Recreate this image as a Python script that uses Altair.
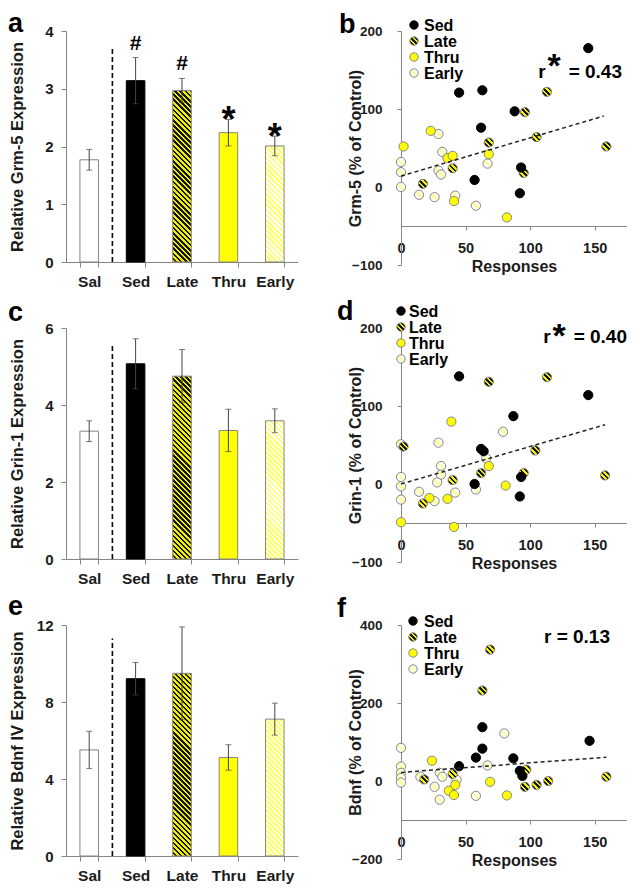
import math
import altair as alt
import pandas as pd

FONT = "Liberation Sans"
GRAY = "#858585"
TXT = "#1c1c1c"
YEL = "#FFFF00"
LYEL = "#FFFF99"
BLK = "#000000"

# ---------------- data ----------------
groups = ["Sal", "Sed", "Late", "Thru", "Early"]

grm5_mean = [1.77, 3.14, 2.97, 2.24, 2.01]
grm5_sem = [0.18, 0.40, 0.21, 0.23, 0.17]
grm5_sig = ["", "#", "#", "*", "*"]

grin1_mean = [3.32, 5.07, 4.75, 3.34, 3.59]
grin1_sem = [0.27, 0.65, 0.69, 0.55, 0.31]
grin1_sig = ["", "", "", "", ""]

bdnf_mean = [5.51, 9.21, 9.49, 5.12, 7.11]
bdnf_sem = [0.97, 0.84, 2.41, 0.66, 0.83]
bdnf_sig = ["", "", "", "", ""]

# scatter b (Grm-5)
b_sed_x = [45, 63, 88, 62, 145, 57, 93, 92]
b_sed_y = [121, 124, 97, 76, 178, 9, 25, -8]
b_late_x = [113, 96, 105, 68, 159, 40, 95, 17]
b_late_y = [122, 96, 64, 57, 52, 24, 18, 4]
b_thru_x = [2, 23, 36, 40, 68, 41, 82]
b_thru_y = [52, 72, 37, 40, 42, -18, -39]
b_early_x = [29, 32, 0, 0, 0, 29, 31, 67, 14, 26, 42, 58]
b_early_y = [68, 45, 32, 19, 0, 21, 16, 30, -10, -13, -11, -24]
b_trend_x = [0, 157]
b_trend_y = [14, 91]

# scatter d (Grin-1)
d_sed_x = [45, 87, 145, 62, 64, 57, 93, 92]
d_sed_y = [138, 87, 114, 45, 42, 0, 9, -16]
d_late_x = [68, 113, 104, 62, 95, 158, 40, 17, 2]
d_late_y = [131, 137, 43, 14, 14, 11, 5, -25, 48]
d_thru_x = [39, 68, 81, 36, 22, 41, 0]
d_thru_y = [80, 23, -2, -19, -18, -55, -49]
d_early_x = [0, 29, 79, 31, 31, 66, 0, 0, 0, 28, 14, 26, 42, 58]
d_early_y = [51, 53, 67, 23, 12, 33, 9, -3, -20, 2, -10, -22, -11, -7]
d_trend_x = [0, 158]
d_trend_y = [0, 76]

# scatter f (Bdnf)
f_sed_x = [63, 63, 58, 87, 146, 45, 92, 94]
f_sed_y = [138, 83, 60, 58, 103, 38, 26, 13]
f_late_x = [69, 63, 97, 40, 18, 159, 114, 105, 96]
f_late_y = [337, 232, 29, 18, 4, 11, 0, -10, -15]
f_thru_x = [24, 37, 41, 42, 69, 82]
f_thru_y = [52, -25, -36, -10, -2, -37]
f_early_x = [0, 0, 0, 0, 0, 15, 30, 32, 26, 30, 43, 58, 67, 80]
f_early_y = [85, 37, 21, 8, -4, 11, 21, 11, -15, -48, 3, -38, 40, 122]
f_trend_x = [0, 159]
f_trend_y = [22, 61]

legend_labels = ["Sed", "Late", "Thru", "Early"]

# ---------------- sizes ----------------
BW, BH = 232, 231   # bar panels
SW, SH = 226, 234   # scatter panels


def hatch_rect(w, h, c1, c2, period):
    """diagonal '\\' stripes for a rect of w x h pixels via a linear gradient"""
    r = h / w
    s = (1 + r) / (1 + r * r)
    L = (w + h) / math.sqrt(2)
    n = max(1, int(round(L / period)))
    stops = []
    for k in range(n):
        a, b, c = k / n, (k + 0.5) / n, (k + 1) / n
        stops += [
            {"offset": round(a, 5), "color": c1},
            {"offset": round(b, 5), "color": c1},
            {"offset": round(b, 5), "color": c2},
            {"offset": round(c, 5), "color": c2},
        ]
    return {"gradient": "linear", "x1": 0, "y1": 1, "x2": round(s, 5),
            "y2": round(1 - s * r, 5), "stops": stops}


def circle_stripes(colors):
    n = len(colors)
    stops = []
    for i, c in enumerate(colors):
        stops += [{"offset": round(i / n, 4), "color": c},
                  {"offset": round((i + 1) / n, 4), "color": c}]
    return {"gradient": "linear", "x1": 0, "y1": 1, "x2": 1, "y2": 0, "stops": stops}


LATE_DOT = circle_stripes(["#F2F200", "#111111", "#F2F200", "#111111",
                           "#F2F200", "#111111", "#F2F200"])
EARLY_DOT = circle_stripes([LYEL, "#FFFFFF", LYEL, "#FFFFFF", LYEL])


def letter_layer(letter, x, y):
    return alt.Chart(pd.DataFrame({"t": [letter]})).mark_text(
        fontSize=27, fontWeight="bold", align="left", baseline="alphabetic",
        color="black").encode(x=alt.value(x), y=alt.value(y), text="t:N")


def bar_panel(letter, ytitle, means, sems, sig, ymax, yticks, div_top, letter_y):
    df = pd.DataFrame({"g": groups, "m": means, "s": sems, "sig": sig})
    df["lo"] = df["m"] - df["s"]
    df["hi"] = df["m"] + df["s"]
    xscale = alt.Scale(domain=groups, paddingInner=0.6, paddingOuter=0.3)
    xaxis = alt.Axis(title=None, labelAngle=0, tickBand="extent", tickSize=5,
                     labelPadding=7, labelFontSize=15.5, labelFontWeight="bold")
    X = alt.X("g:N", scale=xscale, axis=xaxis, sort=groups)
    yscale = alt.Scale(domain=[0, ymax], nice=False)
    yaxis = alt.Axis(title=ytitle, values=yticks, tickSize=5, labelPadding=8,
                     labelFontSize=15, labelFontWeight="bold", titleFontSize=16.5,
                     titleFontWeight="bold", minExtent=36, maxExtent=36, titlePadding=5)

    def Y(f):
        return alt.Y(f, type="quantitative", scale=yscale, axis=yaxis)

    base = alt.Chart(df)
    step = BW / 5
    bw = 0.4 * step
    mm = dict(zip(groups, means))
    late_fill = hatch_rect(bw, mm["Late"] / ymax * BH, "#EFEF00", "#141414", 3.6)
    early_fill = hatch_rect(bw, mm["Early"] / ymax * BH, "#FFFF6A", "#FFFFFF", 3.6)

    def bar(g, **kw):
        return base.transform_filter(alt.datum.g == g).mark_bar(**kw).encode(x=X, y=Y("m"))

    layers = [
        bar("Sal", fill="white", stroke=GRAY, strokeWidth=1),
        bar("Sed", fill=BLK, stroke=BLK, strokeWidth=1),
        bar("Late", fill=late_fill, stroke=GRAY, strokeWidth=1),
        bar("Thru", fill=YEL, stroke=GRAY, strokeWidth=1),
        bar("Early", fill=early_fill, stroke=GRAY, strokeWidth=1),
        base.mark_rule(color="#454545", strokeWidth=1).encode(x=X, y=Y("lo"), y2="hi:Q"),
        base.mark_tick(color="#454545", size=6, thickness=1).encode(x=X, y=Y("hi")),
        base.mark_tick(color="#454545", size=6, thickness=1).encode(x=X, y=Y("lo")),
        base.transform_filter(alt.datum.sig == "#").mark_text(
            fontSize=21, fontWeight="bold", baseline="alphabetic", dy=-8, color="black"
        ).encode(x=X, y=Y("hi"), text="sig:N"),
        base.transform_filter(alt.datum.sig == "*").mark_text(
            fontSize=36, fontWeight="bold", baseline="alphabetic", dy=13, color="black"
        ).encode(x=X, y=Y("hi"), text="sig:N"),
        alt.Chart(pd.DataFrame({"g": ["Sal"], "z": [0.0], "t": [div_top]})).mark_rule(
            color="black", strokeWidth=1.6, strokeDash=[5, 3], xOffset=0.3 * step
        ).encode(x=alt.X("g:N", scale=xscale, axis=xaxis, sort=groups, bandPosition=1),
                 y=Y("z"), y2="t:Q"),
        letter_layer(letter, -58, letter_y),
    ]
    return alt.layer(*layers).properties(width=BW, height=BH)


def scatter_panel(letter, ytitle, sets, trend, ydom, yticks, rinfo, leg, let_xy):
    xscale = alt.Scale(domain=[0, 175], nice=False, zero=False)
    xaxis = alt.Axis(title="Responses", values=[0, 50, 100, 150], offset=-SH / 6,
                     tickSize=4, labelPadding=11, labelFontSize=14.5, labelFontWeight="bold",
                     labelFlush=False, titleFontSize=16, titleFontWeight="bold",
                     minExtent=30, maxExtent=30, titlePadding=2)
    yscale = alt.Scale(domain=ydom, nice=False, zero=False)
    yaxis = alt.Axis(title=ytitle, values=yticks, tickSize=4, labelPadding=15,
                     labelFontSize=13.5, labelFontWeight="bold", titleFontSize=16,
                     titleFontWeight="bold", minExtent=34, maxExtent=34, titlePadding=4)
    X = alt.X("x:Q", scale=xscale, axis=xaxis)
    Y = alt.Y("y:Q", scale=yscale, axis=yaxis)

    styles = {
        "Sed": dict(fill=BLK, stroke=BLK),
        "Late": dict(fill=LATE_DOT, stroke=GRAY),
        "Thru": dict(fill=YEL, stroke=GRAY),
        "Early": dict(fill=EARLY_DOT, stroke=GRAY),
    }
    layers = []
    for name in ["Early", "Thru", "Late", "Sed"]:
        xs, ys = sets[name]
        layers.append(alt.Chart(pd.DataFrame({"x": xs, "y": ys})).mark_point(
            shape="circle", filled=True, size=85, strokeWidth=1, opacity=1,
            **styles[name]).encode(x=X, y=Y))
    layers.append(alt.Chart(pd.DataFrame({"x": trend[0], "y": trend[1]})).mark_line(
        color="#222222", strokeWidth=1.5, strokeDash=[4, 3]).encode(x=X, y=Y))

    # legend
    lx, ly, tx, stp = leg
    for i, name in enumerate(legend_labels):
        one = alt.Chart(pd.DataFrame({"label": [name]}))
        layers.append(one.mark_point(shape="circle", filled=True, size=70, strokeWidth=1,
                                     opacity=1, **styles[name]).encode(
            x=alt.value(lx), y=alt.value(ly + i * stp)))
        layers.append(one.mark_text(align="left", baseline="middle", fontSize=16,
                                    fontWeight="bold", color="black").encode(
            x=alt.value(tx), y=alt.value(ly + i * stp + 1), text="label:N"))

    # r annotation
    R, base_y, star, value_txt, star_dy = rinfo
    one = alt.Chart(pd.DataFrame({"v": [value_txt], "r": ["r"], "s": ["*"]}))
    layers.append(one.mark_text(align="right", baseline="alphabetic", fontSize=19,
                                fontWeight="bold", color="black").encode(
        x=alt.value(R), y=alt.value(base_y), text="v:N"))
    if star:
        layers.append(one.mark_text(align="center", baseline="alphabetic", fontSize=19,
                                    fontWeight="bold", color="black").encode(
            x=alt.value(R - 80), y=alt.value(base_y), text="r:N"))
        layers.append(one.mark_text(align="center", baseline="alphabetic", fontSize=34,
                                    fontWeight="bold", color="black").encode(
            x=alt.value(R - 68), y=alt.value(base_y + star_dy), text="s:N"))
    layers.append(letter_layer(letter, let_xy[0], let_xy[1]))
    return alt.layer(*layers).properties(width=SW, height=SH)


a = bar_panel("a", "Relative Grm-5 Expression", grm5_mean, grm5_sem, grm5_sig,
              4, [0, 1, 2, 3, 4], 3.72, 1)
c = bar_panel("c", "Relative Grin-1 Expression", grin1_mean, grin1_sem, grin1_sig,
              6, [0, 2, 4, 6], 5.6, -7)
e = bar_panel("e", "Relative Bdnf IV Expression", bdnf_mean, bdnf_sem, bdnf_sig,
              12, [0, 4, 8, 12], 11.3, -10)

b = scatter_panel(
    "b", "Grm-5 (% of Control)",
    {"Sed": (b_sed_x, b_sed_y), "Late": (b_late_x, b_late_y),
     "Thru": (b_thru_x, b_thru_y), "Early": (b_early_x, b_early_y)},
    (b_trend_x, b_trend_y), [-100, 200], [-100, 0, 100, 200],
    (SW - 5, 47, True, "= 0.43", -1), (13, -6, 23, 16), (-62, 2))
d = scatter_panel(
    "d", "Grin-1 (% of Control)",
    {"Sed": (d_sed_x, d_sed_y), "Late": (d_late_x, d_late_y),
     "Thru": (d_thru_x, d_thru_y), "Early": (d_early_x, d_early_y)},
    (d_trend_x, d_trend_y), [-100, 200], [-100, 0, 100, 200],
    (SW, 15, True, "= 0.40", 4), (0, -17, 8, 16), (-64, -8))
f = scatter_panel(
    "f", "Bdnf (% of Control)",
    {"Sed": (f_sed_x, f_sed_y), "Late": (f_late_x, f_late_y),
     "Thru": (f_thru_x, f_thru_y), "Early": (f_early_x, f_early_y)},
    (f_trend_x, f_trend_y), [-200, 400], [-200, 0, 200, 400],
    (SW - 17, 18, False, "r = 0.13", 0), (12, -4, 23, 16), (-64, -8))

chart = alt.concat(a, b, c, d, e, f, columns=2, spacing={"row": 63, "column": 103},
                   bounds="flush").properties(padding={"top": 2, "left": 0, "right": 0, "bottom": 0})
chart = chart.configure(font=FONT).configure_view(stroke=None).configure_axis(
    grid=False, domainColor=GRAY, tickColor=GRAY, labelColor=TXT, titleColor=TXT,
    labelFont=FONT, titleFont=FONT)

chart.save("out.html", embed_options={"renderer": "svg", "actions": False})
